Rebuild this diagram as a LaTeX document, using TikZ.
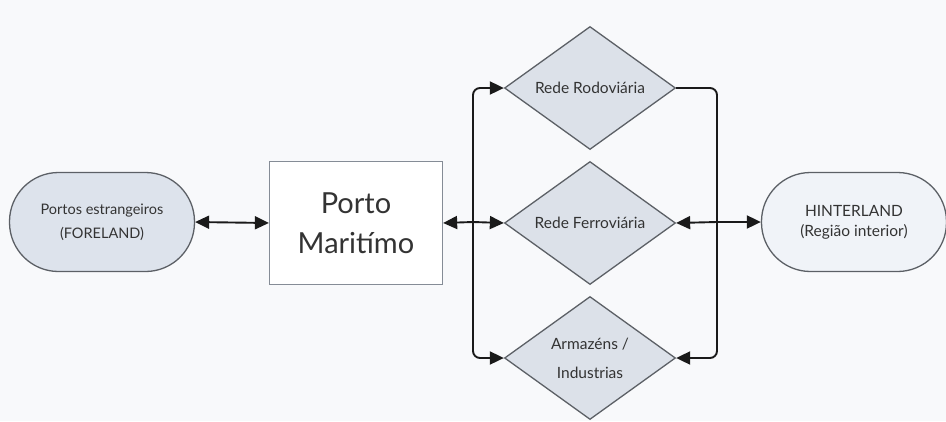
\documentclass[tikz,border=0pt]{standalone}
\usepackage{fontspec}
\setmainfont{Lato}
\usepackage{tikz}
\usetikzlibrary{shapes.geometric,arrows.meta}
\usepackage{xcolor}

\definecolor{pagebg}{HTML}{F8F9FB}
\definecolor{edgegray}{HTML}{5C6066}
\definecolor{boxgray}{HTML}{858C96}
\definecolor{forefill}{HTML}{DDE3EC}
\definecolor{diafill}{HTML}{DCE1E9}
\definecolor{hintfill}{HTML}{F0F3F8}
\definecolor{txt}{HTML}{333333}
\definecolor{wire}{HTML}{1A1A1A}

\begin{document}
\begin{tikzpicture}[x=1pt,y=-1pt,
    pill/.style={draw=edgegray,line width=1.3pt,rounded corners=49pt,
        minimum width=185pt,minimum height=99pt,align=center,text=txt,
        font=\fontsize{14.5}{24}\selectfont},
    portbox/.style={draw=boxgray,line width=1.3pt,fill=white,
        minimum width=173pt,minimum height=123pt,align=center,text=txt,
        font=\fontsize{29}{40}\selectfont},
    route/.style={diamond,draw=edgegray,line width=1.3pt,fill=diafill,
        inner sep=0pt,minimum width=171pt,minimum height=123pt,align=center,
        text=txt,font=\fontsize{15.5}{29}\selectfont},
    wireline/.style={draw=wire,line width=1.9pt,rounded corners=7pt},
    conn/.style={wireline,-{Triangle[length=14pt,width=13pt]}},
    biconn/.style={wireline,{Triangle[length=14pt,width=13pt]}-{Triangle[length=14pt,width=13pt]}}]

    % page
    \fill[pagebg] (0,0) rectangle (946,421);
    \useasboundingbox (0,0) rectangle (946,421);

    % foreland and port
    \node[pill,fill=forefill] (fore) at (102,222) {Portos estrangeiros\\(FORELAND)};
    \node[portbox] (porto) at (356,223) {Porto\\Maritímo};

    % transport networks
    \node[route] (rodo) at (590,88) {Rede Rodoviária};
    \node[route] (ferro) at (590,223) {Rede Ferroviária};
    \node[route] (arm) at (590,358) {Armazéns /\\Industrias};

    % hinterland
    \node[pill,fill=hintfill,font=\fontsize{15.5}{20}\selectfont] (hint) at (854,222) {HINTERLAND\\(Região interior)};

    % junctions
    \coordinate (lj) at (473,222);
    \coordinate (rj) at (717,222);

    % connectors
    \draw[biconn] (fore.east) -- (porto.west);
    \draw[conn] (lj) -- (porto.east);
    \draw[conn] (lj) |- (rodo.west);
    \draw[conn] (lj) -- (ferro.west);
    \draw[conn] (lj) |- (arm.west);
    \draw[wireline] (rodo.east) -| (rj);
    \draw[conn] (rj) -- (ferro.east);
    \draw[conn] (rj) |- (arm.east);
    \draw[conn] (rj) -- (hint.west);
\end{tikzpicture}
\end{document}
